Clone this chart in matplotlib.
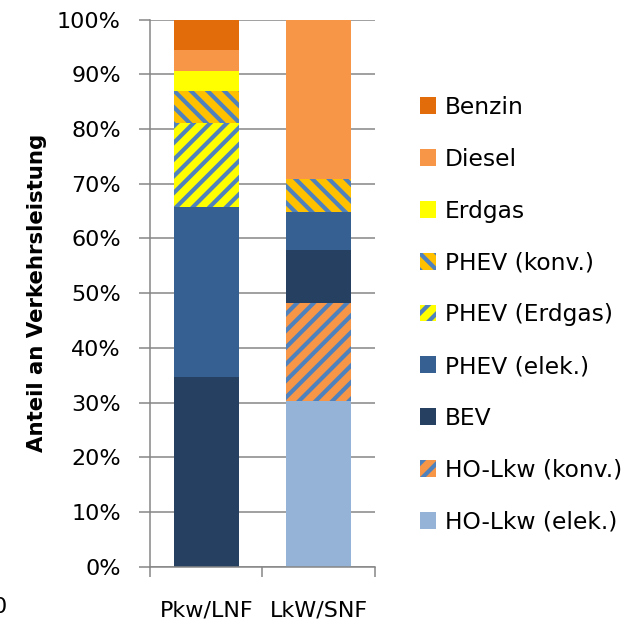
import matplotlib.pyplot as plt
from matplotlib.patches import Patch
import numpy as np

plt.rcParams['font.family'] = ['DejaVu Sans']
plt.rcParams['hatch.linewidth'] = 3.0

categories = ['Pkw/LNF', 'LkW/SNF']

# stacked from the bottom up
series = ['HO-Lkw (elek.)', 'HO-Lkw (konv.)', 'BEV', 'PHEV (elek.)',
          'PHEV (Erdgas)', 'PHEV (konv.)', 'Erdgas', 'Diesel', 'Benzin']
ho_elek = [0.0, 30.2]
ho_konv = [0.0, 18.0]
bev = [34.6, 9.7]
phev_elek = [31.2, 6.9]
phev_erdgas = [15.4, 0.0]
phev_konv = [5.8, 6.1]
erdgas = [3.6, 0.0]
diesel = [3.8, 29.1]
benzin = [5.6, 0.0]
values = [ho_elek, ho_konv, bev, phev_elek, phev_erdgas, phev_konv,
          erdgas, diesel, benzin]

stripe = '#4F81BD'
styles = {
    'HO-Lkw (elek.)': dict(color='#95B3D7'),
    'HO-Lkw (konv.)': dict(color='#F79646', hatch='//', edgecolor=stripe),
    'BEV': dict(color='#254061'),
    'PHEV (elek.)': dict(color='#376092'),
    'PHEV (Erdgas)': dict(color='#FFFF00', hatch='//', edgecolor=stripe),
    'PHEV (konv.)': dict(color='#FFC000', hatch='\\\\', edgecolor=stripe),
    'Erdgas': dict(color='#FFFF00'),
    'Diesel': dict(color='#F79646'),
    'Benzin': dict(color='#E26B0A'),
}

fig = plt.figure(figsize=(6.26, 6.23), dpi=100)
ax = fig.add_axes([0.2396, 0.0904, 0.3594, 0.878])

x = np.array([0.5, 1.5])
bottom = np.zeros(2)
handles = []
for name, vals in zip(series, values):
    st = styles[name]
    kw = dict(facecolor=st['color'], linewidth=0)
    if 'hatch' in st:
        kw.update(hatch=st['hatch'], edgecolor=st['edgecolor'])
    ax.bar(x, vals, width=0.58, bottom=bottom, zorder=2, **kw)
    handles.append(Patch(label=name, **kw))
    bottom += np.array(vals)

grey = '#868686'
ax.set_xlim(0, 2)
ax.set_ylim(0, 100)
ax.set_yticks(np.arange(0, 101, 10))
ax.set_yticklabels([f'{v}%' for v in range(0, 101, 10)])
ax.set_xticks(x)
ax.set_xticklabels(categories)
ax.set_xticks([0, 1, 2], minor=True)
ax.tick_params(axis='x', which='major', length=0, pad=24, labelsize=16)
ax.tick_params(axis='x', which='minor', length=7, width=1.1, color=grey)
ax.tick_params(axis='y', length=8, width=1.1, color=grey, pad=13, labelsize=16)
ax.yaxis.grid(True, color=grey, linewidth=1.1, zorder=0)
ax.set_axisbelow(True)
for side in ('top', 'right'):
    ax.spines[side].set_visible(False)
for side in ('left', 'bottom'):
    ax.spines[side].set_color(grey)
    ax.spines[side].set_linewidth(1.1)

ax.set_ylabel('Anteil an Verkehrsleistung', fontsize=15.3, fontweight='bold',
              labelpad=7)

fig.legend(handles=handles[::-1], loc='upper left',
           bbox_to_anchor=(0.671, 0.846), frameon=False, fontsize=16.8,
           handlelength=0.69, handleheight=0.73, handletextpad=0.38,
           labelspacing=1.235, borderpad=0, borderaxespad=0)

fig.text(0.0, 0.025, '0', fontsize=16, ha='center', va='center')

fig.savefig('out.png', dpi=100)
